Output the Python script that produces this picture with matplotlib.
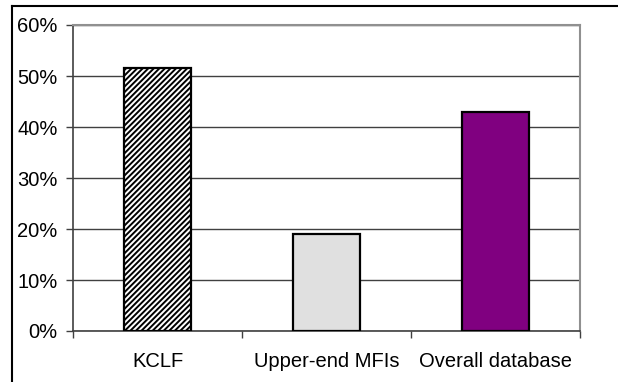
import matplotlib.pyplot as plt
from matplotlib.lines import Line2D

plt.rcParams['font.family'] = ['Liberation Sans', 'DejaVu Sans']
plt.rcParams['hatch.linewidth'] = 1.4

categories = ['KCLF', 'Upper-end MFIs', 'Overall database']
shares = [51.5, 19.0, 43.0]
colors = ['white', '#e0e0e0', '#800080']
hatches = ['//////', None, None]
yticks = [0, 10, 20, 30, 40, 50, 60]

fig = plt.figure(figsize=(6.18, 3.82), dpi=100)
ax = fig.add_axes([73 / 618, 1 - 331 / 382, (580 - 73) / 618, (331 - 25) / 382])

positions = [0.5, 1.5, 2.5]
for x, v, c, h in zip(positions, shares, colors, hatches):
    ax.bar(x, v, width=0.4, color=c, edgecolor='black', linewidth=1.6,
           hatch=h, zorder=3)

ax.set_xlim(0, 3)
ax.set_ylim(0, 60)
ax.set_yticks(yticks)
ax.set_yticklabels([f'{t}%' for t in yticks], fontsize=14.5)
ax.grid(axis='y', color='#404040', linewidth=1.0, zorder=0)

# category ticks sit on the boundaries, labels in between
ax.set_xticks([0, 1, 2, 3])
ax.set_xticklabels([])
ax.set_xticks(positions, minor=True)
ax.set_xticklabels(categories, minor=True, fontsize=14.5)
ax.tick_params(axis='x', which='minor', length=0, pad=15)
ax.tick_params(axis='x', which='major', length=5, width=1, color='#404040')
ax.tick_params(axis='y', length=5, width=1, color='#404040', pad=6)

for side in ['top', 'right']:
    ax.spines[side].set_color('#909090')
    ax.spines[side].set_linewidth(1.5)
for side in ['left', 'bottom']:
    ax.spines[side].set_color('#404040')
    ax.spines[side].set_linewidth(1.2)

# outer chart frame
fig.add_artist(Line2D([12 / 618, 12 / 618], [0, 1 - 6 / 382], color='black',
                      linewidth=1.5, transform=fig.transFigure))
fig.add_artist(Line2D([12 / 618, 1], [1 - 6 / 382, 1 - 6 / 382], color='black',
                      linewidth=1.5, transform=fig.transFigure))

fig.savefig('out.png', dpi=100)
